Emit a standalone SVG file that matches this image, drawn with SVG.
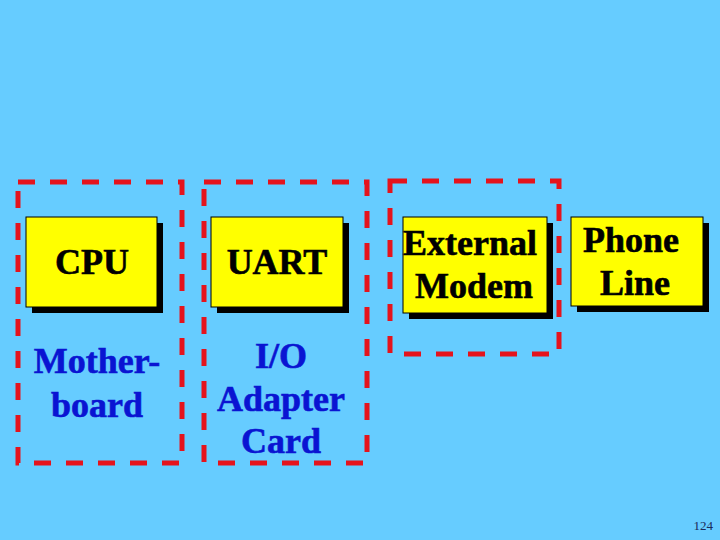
<svg xmlns="http://www.w3.org/2000/svg" width="720" height="540" viewBox="0 0 720 540">
<style>
.grp{fill:none;stroke:#E5131C;stroke-width:5;stroke-dasharray:17 15}
.box{fill:#FFFF00;stroke:#000;stroke-width:1}
.sh{fill:#000}
.t{font-family:"Liberation Serif","Times New Roman",serif;font-weight:bold;font-size:36px;text-anchor:middle;stroke-width:0.6}
.k{fill:#000;stroke:#000}
.b{fill:#0A14D2;stroke:#0A14D2}
</style>
<rect width="720" height="540" fill="#66CCFF"/>
<g id="groups">
<rect class="grp" x="18" y="182" width="164" height="281"/>
<rect class="grp" x="204" y="182" width="163" height="281"/>
<rect class="grp" x="390" y="181" width="169" height="173"/>
</g>
<g id="cpu">
<rect class="sh" x="32" y="223" width="131" height="90"/>
<rect class="box" x="26" y="217" width="131" height="90"/>
<text class="t k" x="92" y="274">CPU</text>
</g>
<g id="uart">
<rect class="sh" x="217" y="223" width="132" height="90"/>
<rect class="box" x="211" y="217" width="132" height="90"/>
<text class="t k" x="277" y="274">UART</text>
</g>
<g id="modem">
<rect class="sh" x="409" y="223" width="144" height="96"/>
<rect class="box" x="403" y="217" width="144" height="96"/>
<text class="t k" x="470" y="255">External</text>
<text class="t k" x="474" y="298">Modem</text>
</g>
<g id="phone">
<rect class="sh" x="577" y="223" width="132" height="89"/>
<rect class="box" x="571" y="217" width="132" height="89"/>
<text class="t k" x="631" y="252">Phone</text>
<text class="t k" x="635" y="295">Line</text>
</g>
<g id="motherboard">
<text class="t b" x="97" y="373">Mother-</text>
<text class="t b" x="97" y="417">board</text>
</g>
<g id="adapter">
<text class="t b" x="281" y="368">I/O</text>
<text class="t b" x="281" y="411">Adapter</text>
<text class="t b" x="281" y="453">Card</text>
</g>
<g id="connectors"></g>
<text x="713" y="530" font-family="'Liberation Serif','Times New Roman',serif" font-size="13" fill="#1A2A5A" text-anchor="end">124</text>
</svg>
